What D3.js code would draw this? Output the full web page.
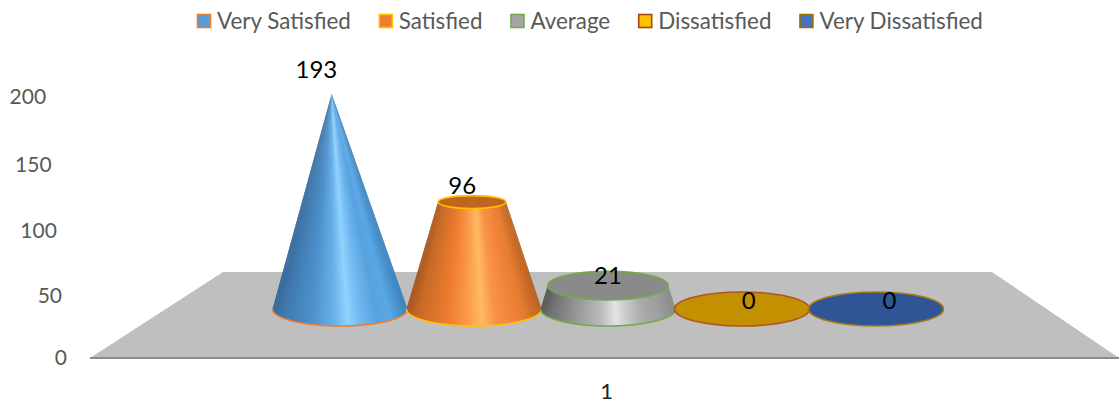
<!DOCTYPE html>
<html>
<head>
<meta charset="utf-8">
<style>
  html, body { margin: 0; padding: 0; background: #fff; }
  svg { display: block; }
  text { font-family: Lato, "Open Sans", sans-serif; }
</style>
<script src="https://cdn.jsdelivr.net/npm/d3@7"></script>
</head>
<body>
<svg id="chart" width="1120" height="404"></svg>
<script>
// Survey responses per satisfaction level
const categories = ["Very Satisfied", "Satisfied", "Average", "Dissatisfied", "Very Dissatisfied"];
const values = [193, 96, 21, 0, 0];
const yTicks = [0, 50, 100, 150, 200];
const xLabels = ["1"];

const swatchFill = ["#5b9bd5", "#ed7d31", "#a5a5a5", "#ffc000", "#4472c4"];
const swatchEdge = ["#ed7d31", "#ffc000", "#70ad47", "#a5480f", "#9e7500"];
const capFill = ["#5b9bd5", "#bf651f", "#8a8a8a", "#c29000", "#2f5597"];
const capEdge = ["#ed7d31", "#ffc000", "#70ad47", "#b3541e", "#a87c10"];

// Metallic shading across each solid, left edge to right edge
const shadeOffsets = [0, .08, .3, .45, .56, .66, .78, .88, 1];
const blueShade = ["#36689a", "#4079ae", "#4f93d0", "#68afe8", "#90d3ff", "#6fb8f0", "#59a2df", "#5aa7e5", "#3d82bb"];
const orangeShade = ["#a5561f", "#c86a26", "#ee7d30", "#fb9a48", "#ffb964", "#f9934a", "#f2843a", "#e57c33", "#b9621f"];
const greyShade = ["#5a5a5a", "#747474", "#a0a0a0", "#bdbdbd", "#e4e4e4", "#c4c4c4", "#a8a8a8", "#a0a0a0", "#8c8c8c"];
const shades = [blueShade, orangeShade, greyShade, greyShade, greyShade];

const svg = d3.select("#chart");

// The sloping floor of the 3D plot
const floor = [[90, 358], [223, 272], [992, 272], [1119, 358]];
svg.append("path").attr("d", d3.line()(floor) + "Z").attr("fill", "#bfbfbf");
svg.append("line").attr("x1", 90).attr("x2", 1119).attr("y1", 358).attr("y2", 358)
  .attr("stroke", "#8c8c8c").attr("stroke-width", 2);

// Axis labels are spaced by the receding wall, so the scale is not uniform
const yLabelScale = d3.scaleLinear().domain(yTicks).range([358, 296, 231, 165, 97]);
const yAxis = svg.append("g").attr("transform", "translate(67,0)")
  .call(d3.axisLeft(yLabelScale).tickValues(yTicks).tickSize(0).tickPadding(0));
yAxis.select(".domain").remove();
yAxis.selectAll("text")
  .attr("font-size", 21).attr("fill", "#595959").style("font-family", "Lato, sans-serif")
  .attr("x", d => -(358 - yLabelScale(d)) * 0.08);

const xLabelScale = d3.scalePoint().domain(xLabels).range([606, 606]);
const xAxis = svg.append("g").attr("transform", "translate(0,383)")
  .call(d3.axisBottom(xLabelScale).tickSize(0).tickPadding(0));
xAxis.select(".domain").remove();
xAxis.selectAll("text").attr("font-size", 22).attr("fill", "#222").style("font-family", "Lato, sans-serif");

// Plot geometry of the solids
const x = d3.scaleBand().domain(categories).range([273, 943]);
const y = d3.scaleLinear().domain([0, 200]).range([309, 86.2]);
const apexValue = d3.max(values);
const baseRx = 67.5, baseRy = 17, viewCentre = 600;

const ellipsePoint = (cx, cy, rx, ry, a) => [cx + rx * Math.cos(a), cy + ry * Math.sin(a)];

const solids = svg.append("g").selectAll("g").data(categories).join("g");
solids.each(function (cat, i) {
  const g = d3.select(this);
  const v = values[i];
  const cx = x(cat) + x.bandwidth() / 2;
  const cy = y(0);
  if (v === 0) {
    // An empty category leaves only the flat disc on the floor
    g.append("ellipse").attr("cx", cx).attr("cy", cy).attr("rx", baseRx).attr("ry", baseRy)
      .attr("fill", capFill[i]).attr("stroke", capEdge[i]).attr("stroke-width", 1.6);
    return;
  }
  const t = v / apexValue;
  const topRx = baseRx * (1 - t);
  const topRy = topRx * (0.25 - 0.12 * t);
  const topCx = cx + (cx - viewCentre) * 0.032 * t;
  const topCy = y(v);
  const shade = d3.scaleLinear().domain(shadeOffsets).range(shades[i]).interpolate(d3.interpolateRgb);

  // Wall of the solid: narrow facets around the front half, each one
  // reaching under the next so no seams show between them
  const steps = 120;
  const facets = d3.range(steps);
  const angle = k => Math.PI - (Math.PI * Math.min(k, steps)) / steps;
  g.selectAll("path.facet").data(facets).join("path")
    .attr("class", "facet")
    .attr("d", k => {
      const a0 = angle(k), a1 = angle(k + 2);
      return d3.line()([
        ellipsePoint(topCx, topCy, topRx, topRy, a0),
        ellipsePoint(cx, cy, baseRx, baseRy, a0),
        ellipsePoint(cx, cy, baseRx, baseRy, a1),
        ellipsePoint(topCx, topCy, topRx, topRy, a1)
      ]) + "Z";
    })
    .attr("fill", k => shade((1 + Math.cos(angle(k + 0.5))) / 2));

  // Rim along the bottom of the wall
  const rim = d3.range(0, steps + 1).map(k => ellipsePoint(cx, cy, baseRx, baseRy, angle(k)));
  g.append("path").attr("d", d3.line()(rim)).attr("fill", "none")
    .attr("stroke", capEdge[i]).attr("stroke-width", 1.6);

  if (topRx > 0.5) {
    g.append("ellipse").attr("cx", topCx).attr("cy", topCy).attr("rx", topRx).attr("ry", topRy)
      .attr("fill", capFill[i]).attr("stroke", capEdge[i]).attr("stroke-width", 1.6);
  }
});

// Value labels sit above each solid and drift outward with perspective
svg.append("g").selectAll("text").data(categories).join("text")
  .attr("x", (c, i) => {
    const cx = x(c) + x.bandwidth() / 2;
    return cx + (cx - 608) * (cx < 608 ? 0.088 : 0.05);
  })
  .attr("y", (c, i) => y(values[i]) - (8 + 16 * values[i] / apexValue))
  .attr("dy", "0.35em")
  .attr("text-anchor", "middle")
  .attr("font-size", 24).attr("fill", "#000")
  .text((c, i) => values[i]);

// Legend, laid out left to right from the measured label widths
const legend = svg.append("g");
let cursor = 197;
categories.forEach((c, i) => {
  const item = legend.append("g").attr("transform", `translate(${cursor},21)`);
  item.append("rect").attr("x", 0.5).attr("y", -6.5).attr("width", 13).attr("height", 13)
    .attr("fill", swatchFill[i]).attr("stroke", swatchEdge[i]).attr("stroke-width", 1.6);
  const label = item.append("text").attr("x", 20).attr("dy", "0.35em")
    .attr("font-size", 22.4).attr("fill", "#595959").text(c);
  cursor += 20 + label.node().getComputedTextLength() + 28;
});
</script>
</body>
</html>
